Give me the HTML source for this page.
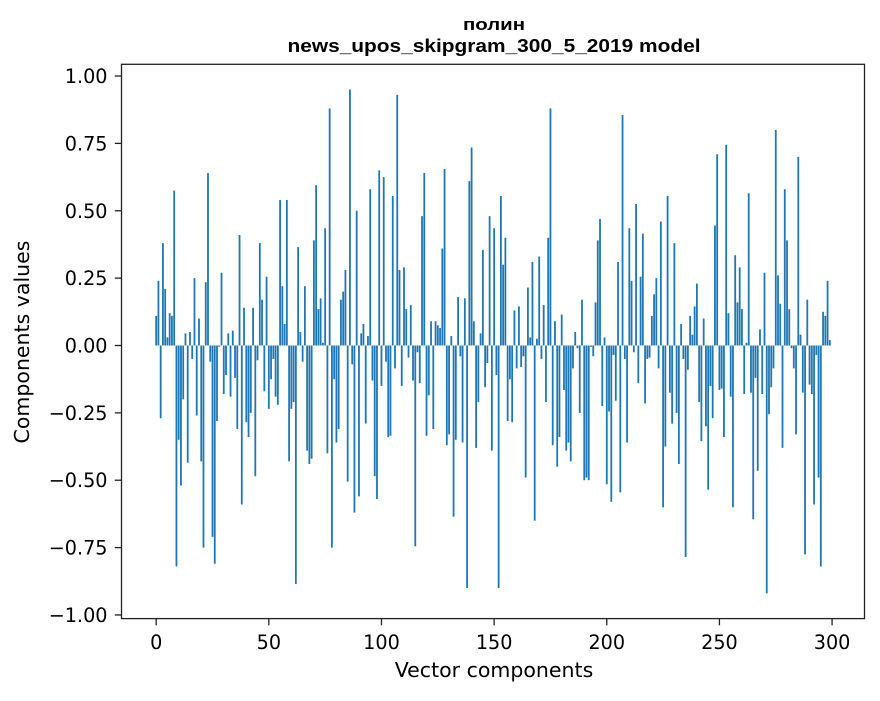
<!DOCTYPE html>
<html><head><meta charset="utf-8"><style>
body{margin:0;background:#fff}
svg text{font-family:"DejaVu Sans","Liberation Sans",sans-serif;fill:#000}
</style></head><body>
<svg id="chart" width="880" height="696" viewBox="0 0 880 696" xmlns="http://www.w3.org/2000/svg">
<text x="494" y="30" text-anchor="middle" font-size="17" font-weight="bold" style="font-family:'Liberation Sans',sans-serif" textLength="62" lengthAdjust="spacingAndGlyphs">полин</text>
<text x="494" y="52" text-anchor="middle" font-size="18" font-weight="bold" style="font-family:'Liberation Sans',sans-serif" textLength="413" lengthAdjust="spacingAndGlyphs">news_upos_skipgram_300_5_2019 model</text>
<g id="bars"></g>
<g id="axes"></g>
<text x="494" y="677" text-anchor="middle" font-size="20.5">Vector components</text>
<text transform="translate(29,342) rotate(-90)" text-anchor="middle" font-size="20.5">Components values</text>
</svg>
<script>
const values = [0.11,0.24,-0.27,0.38,0.21,0.03,0.12,0.11,0.575,-0.82,
-0.35,-0.52,-0.20,0.045,-0.435,0.05,-0.05,0.25,-0.26,0.10,
-0.43,-0.75,0.235,0.64,-0.06,-0.71,-0.81,-0.28,-0.005,0.27,
-0.18,-0.11,0.045,-0.19,0.055,-0.12,-0.31,0.41,-0.59,0.14,
-0.285,-0.34,-0.25,0.14,-0.485,-0.055,0.38,0.17,-0.17,0.255,
-0.235,-0.125,-0.05,-0.19,-0.22,0.54,0.22,0.08,0.54,-0.43,
-0.235,-0.21,-0.885,0.365,0.05,-0.06,0.22,-0.39,-0.44,-0.42,
0.39,0.595,0.135,0.175,0.01,0.435,-0.40,0.88,-0.75,-0.125,
-0.36,-0.31,0.17,0.20,0.28,-0.505,0.95,-0.07,-0.62,0.50,
-0.56,0.045,0.08,-0.29,0.035,0.58,-0.13,-0.485,-0.57,0.65,
-0.15,0.625,-0.06,-0.34,-0.335,0.555,-0.085,0.93,0.28,-0.15,
0.29,0.135,-0.045,0.15,-0.13,-0.745,-0.025,-0.14,0.48,0.64,
-0.335,-0.185,0.09,-0.31,0.09,0.075,0.065,0.36,0.655,-0.37,
-0.33,0.035,-0.635,-0.35,0.18,-0.04,-0.36,0.175,-0.90,0.61,
0.735,0.09,-0.38,-0.21,0.045,0.355,-0.155,-0.065,0.48,-0.39,
0.435,-0.11,-0.90,0.555,0.30,0.40,-0.28,-0.125,-0.285,0.13,
-0.085,0.145,-0.08,-0.04,-0.49,0.215,0.03,0.31,-0.65,0.025,
0.33,-0.05,0.15,-0.21,0.40,0.88,-0.37,0.09,-0.45,-0.34,
0.115,-0.165,-0.39,-0.36,-0.43,-0.085,0.05,-0.01,-0.25,0.17,
-0.50,-0.49,-0.50,-0.005,-0.04,0.16,0.39,0.47,-0.225,0.03,
-0.515,-0.245,-0.58,-0.035,-0.205,0.31,-0.545,0.855,-0.05,-0.36,
0.435,0.24,-0.025,0.525,-0.14,0.255,0.415,-0.215,-0.05,-0.045,
0.11,0.19,0.25,-0.085,0.46,-0.60,-0.375,0.555,-0.175,-0.29,
0.38,-0.25,-0.44,0.08,-0.05,-0.785,-0.09,0.11,0.04,0.145,
0.23,-0.21,-0.355,0.10,-0.30,-0.535,-0.15,-0.27,0.445,0.71,
-0.165,-0.16,-0.34,0.745,0.12,-0.19,-0.60,0.335,0.16,0.29,
0.135,-0.18,0.01,0.565,-0.175,-0.645,-0.12,-0.465,0.06,-0.18,
0.27,-0.92,-0.255,-0.155,-0.085,0.80,0.26,0.155,-0.38,0.58,
0.39,0.135,-0.01,-0.085,-0.33,0.70,0.04,-0.175,-0.775,0.17,
-0.145,-0.18,-0.59,-0.035,-0.49,-0.82,0.125,0.11,0.24,0.02];
const xTicks = [0,50,100,150,200,250,300];
const yTicks = [-1.00,-0.75,-0.50,-0.25,0.00,0.25,0.50,0.75,1.00];

const L=121.5,R=864.5,T=64.3,B=618.6;
const n=values.length;
const xmin=-0.4-0.05*(n-0.2), xmax=(n-1)+0.4+0.05*(n-0.2);
let vmin=Math.min(0,...values), vmax=Math.max(0,...values);
const ymin=vmin-0.05*(vmax-vmin), ymax=vmax+0.05*(vmax-vmin);
const X=v=>L+(v-xmin)/(xmax-xmin)*(R-L);
const Y=v=>B-(v-ymin)/(ymax-ymin)*(B-T);
const NS="http://www.w3.org/2000/svg";
const bars=document.getElementById('bars');
values.forEach((v,i)=>{
  const r=document.createElementNS(NS,'rect');
  const x0=X(i-0.4), x1=X(i+0.4);
  const y0=Y(Math.max(v,0)), y1=Y(Math.min(v,0));
  r.setAttribute('x',x0);r.setAttribute('width',x1-x0);
  r.setAttribute('y',y0);r.setAttribute('height',Math.max(y1-y0,0.3));
  r.setAttribute('fill','#1f77b4');
  
  
  bars.appendChild(r);
});
const axes=document.getElementById('axes');
const frame=document.createElementNS(NS,'rect');
frame.setAttribute('x',L);frame.setAttribute('y',T);frame.setAttribute('width',R-L);frame.setAttribute('height',B-T);
frame.setAttribute('fill','none');frame.setAttribute('stroke','#222');frame.setAttribute('stroke-width','1.3');


axes.appendChild(frame);
xTicks.forEach(t=>{
  const x=X(t);
  const l=document.createElementNS(NS,'line');
  l.setAttribute('x1',x);l.setAttribute('x2',x);l.setAttribute('y1',B);l.setAttribute('y2',B+6.7);
  l.setAttribute('stroke','#222');l.setAttribute('stroke-width','1.3');
  
  
  axes.appendChild(l);
  const tx=document.createElementNS(NS,'text');
  tx.setAttribute('x',x);tx.setAttribute('y',649);tx.setAttribute('text-anchor','middle');tx.setAttribute('font-size','19.2');
  tx.textContent=t;
  
  
  axes.appendChild(tx);
});
yTicks.forEach(t=>{
  const y=Y(t);
  const l=document.createElementNS(NS,'line');
  l.setAttribute('x1',L-6.7);l.setAttribute('x2',L);l.setAttribute('y1',y);l.setAttribute('y2',y);
  l.setAttribute('stroke','#222');l.setAttribute('stroke-width','1.3');
  
  
  axes.appendChild(l);
  const tx=document.createElementNS(NS,'text');
  tx.setAttribute('x',L-14);tx.setAttribute('y',y+7);tx.setAttribute('text-anchor','end');tx.setAttribute('font-size','19.2');
  tx.textContent=(t<0?'\u2212':'')+Math.abs(t).toFixed(2);
  
  
  axes.appendChild(tx);
});
</script>
</body></html>
